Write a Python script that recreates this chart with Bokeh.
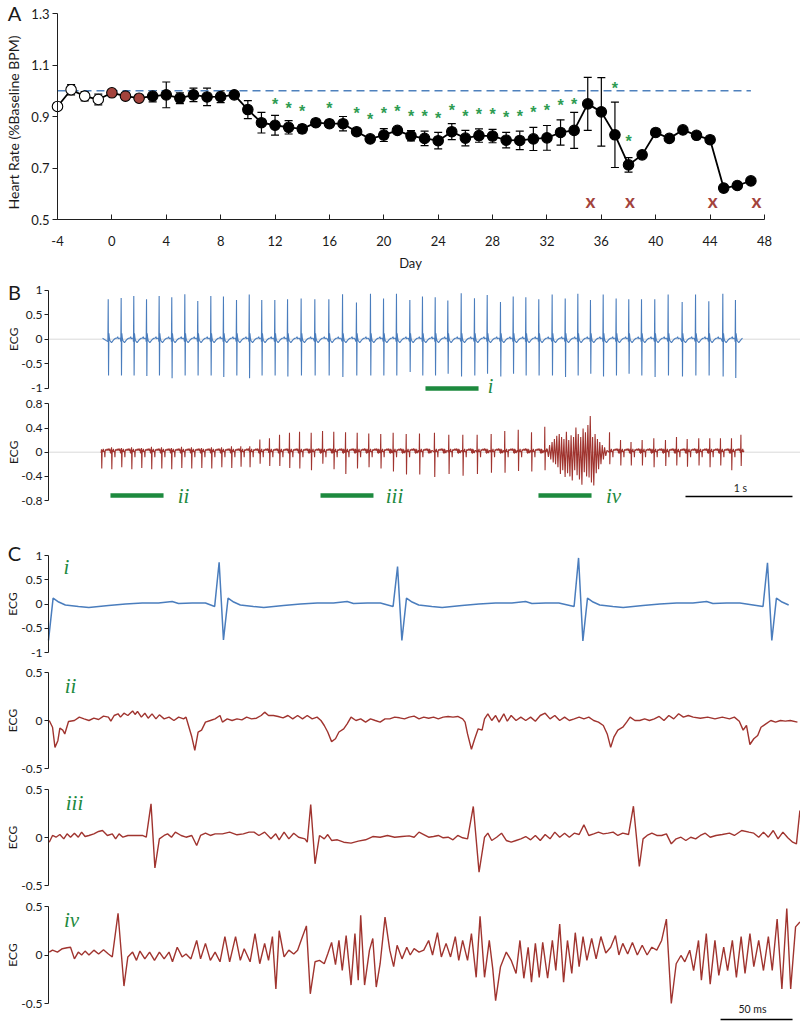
import math
from bokeh.plotting import figure
from bokeh.layouts import column
from bokeh.models import (Range1d, FixedTicker, Whisker, TeeHead, ColumnDataSource)
from bokeh.core.properties import value
from bokeh.embed import file_html
from bokeh.resources import INLINE

FONT = "Lato"
SERIF = "Liberation Serif"
AX = "#1f1f1f"
TXT = "#1a1a1a"
BLUE = "#4a7dbd"
RED = "#a0342f"
GREEN = "#1d8a3e"
STAR = "#2e9c52"
DOT_RED = "#a3433d"
DASH_BLUE = "#4f81bd"

# ---------------- Panel A: heart rate over days ----------------
DAYS = list(range(-4, 48))
HR = [0.939, 1.004, 0.979, 0.966, 0.992, 0.979, 0.971, 0.979, 0.984, 0.971,
      0.984, 0.976, 0.977, 0.984, 0.927, 0.876, 0.866, 0.858, 0.852, 0.876,
      0.872, 0.872, 0.841, 0.813, 0.828, 0.846, 0.825, 0.815, 0.806, 0.841,
      0.816, 0.826, 0.824, 0.808, 0.807, 0.813, 0.817, 0.838, 0.846, 0.949,
      0.918, 0.829, 0.712, 0.751, 0.838, 0.815, 0.848, 0.827, 0.810, 0.622,
      0.632, 0.650]
HR_ERR = [0.0, 0.02, 0.018, 0.021, 0.0, 0.0, 0.0, 0.022, 0.05, 0.021,
          0.026, 0.034, 0.023, 0.008, 0.035, 0.04, 0.038, 0.026, 0.016, 0.012,
          0.012, 0.028, 0.01, 0.013, 0.025, 0.01, 0.02, 0.028, 0.032, 0.031,
          0.03, 0.026, 0.026, 0.03, 0.036, 0.045, 0.048, 0.049, 0.07, 0.103,
          0.133, 0.127, 0.028, 0.0, 0.0, 0.0, 0.0, 0.0, 0.0, 0.0,
          0.0, 0.0]
PHASE = ["baseline"] * 4 + ["onset"] * 3 + ["treated"] * 45
PHASE_FILL = {"baseline": "white", "onset": DOT_RED, "treated": "black"}
SIG_DAYS = [12, 13, 14, 16, 18, 19, 20, 21, 22, 23, 24, 25, 26, 27, 28, 29, 30,
            31, 32, 33, 34, 37, 38]
SIG_Y = [0.962, 0.946, 0.935, 0.946, 0.926, 0.903, 0.926, 0.934, 0.917, 0.917,
         0.906, 0.938, 0.915, 0.922, 0.922, 0.913, 0.917, 0.932, 0.940, 0.957,
         0.962, 1.023, 0.817]
DEATH_DAYS = [35.2, 38.1, 44.2, 47.4]
DEATH_Y = [0.575, 0.575, 0.575, 0.575]
BASELINE = 1.0
A_YTICKS = [0.5, 0.7, 0.9, 1.1, 1.3]
A_XTICKS = list(range(-4, 49, 4))

# ---------------- Panel B: long ECG strips (time in s) ----------------
BLUE_BEATS_S = [0.717, 0.838, 0.956, 1.075, 1.193, 1.311, 1.433, 1.554, 1.676, 1.794,
                1.916, 2.035, 2.152, 2.274, 2.393, 2.520, 2.648, 2.779, 2.907, 3.037,
                3.168, 3.290, 3.411, 3.536, 3.654, 3.773, 3.891, 4.016, 4.140, 4.259,
                4.383, 4.502, 4.620, 4.741, 4.866, 4.988, 5.106, 5.224, 5.343, 5.464,
                5.582, 5.701, 5.825, 5.950, 6.081, 6.206, 6.330, 6.461, 6.579]
BLUE_PEAKS = [0.815, 0.84, 0.88, 0.815, 0.88, 0.856, 0.918, 0.78, 0.88, 0.87,
              0.80, 0.91, 0.80, 0.80, 0.815, 0.83, 0.815, 0.815, 0.918, 0.747,
              0.925, 0.83, 0.925, 0.80, 0.87, 0.856, 0.79, 0.94, 0.836, 0.90,
              0.76, 0.87, 0.856, 0.815, 0.91, 0.83, 0.925, 0.80, 0.91, 0.83,
              0.815, 0.815, 0.815, 0.91, 0.76, 0.91, 0.775, 0.925, 0.80]
BLUE_TROUGHS = [-0.74, -0.74, -0.74, -0.75, -0.74, -0.795, -0.74, -0.74, -0.74, -0.77,
                -0.74, -0.795, -0.74, -0.74, -0.76, -0.74, -0.74, -0.74, -0.77, -0.74,
                -0.74, -0.74, -0.74, -0.67, -0.74, -0.74, -0.705, -0.76, -0.74, -0.705,
                -0.76, -0.705, -0.74, -0.74, -0.74, -0.77, -0.74, -0.705, -0.76, -0.74,
                -0.705, -0.74, -0.77, -0.74, -0.76, -0.74, -0.74, -0.76, -0.79]
BLUE_START = (0.664, 0.02)
BLUE_END = (6.645, 0.02)
# one beat of the blue (healthy) lead, offsets in ms from the R peak
BLUE_TPL_MS = [-3.1, 0.0, 3.0, 6.2, 10.1, 14.7, 23.8, 31.0, 44.7, 56.5, 68.1, 79.4,
               88.9, 93.3, 102.8, 112.0]
BLUE_TPL_V = [-0.05, None, None, 0.12, 0.04, -0.02, -0.05, -0.07, -0.03, 0.0, 0.02,
              0.02, 0.05, 0.01, 0.02, 0.02]

RED_BEATS_S = [0.654, 0.748, 0.841, 0.935, 1.028, 1.121, 1.215, 1.308, 1.402, 1.495,
               1.589, 1.682, 1.776, 1.869, 1.956, 2.040, 2.134, 2.224, 2.318, 2.411,
               2.505, 2.614, 2.720, 2.825, 2.935, 3.044, 3.152, 3.264, 3.380, 3.502,
               3.626, 3.766, 3.900, 4.031, 4.165, 4.296, 4.423, 4.549, 4.673, 4.797,
               5.402, 5.505, 5.603, 5.707, 5.816, 5.925, 6.028, 6.128, 6.236, 6.339,
               6.439, 6.542, 6.630]
RED_PEAKS = [0.05, 0.08, 0.07, 0.08, 0.07, 0.09, 0.08, 0.07, 0.09, 0.08,
             0.07, 0.08, 0.08, 0.10, 0.10, 0.10, 0.21, 0.23, 0.29, 0.32,
             0.34, 0.32, 0.35, 0.34, 0.33, 0.32, 0.31, 0.30, 0.32, 0.30,
             0.31, 0.32, 0.29, 0.29, 0.29, 0.30, 0.35, 0.37, 0.33, 0.42,
             0.33, 0.20, 0.17, 0.20, 0.23, 0.20, 0.25, 0.22, 0.23, 0.23,
             0.23, 0.23, 0.29]
RED_TROUGHS = [-0.27, -0.28, -0.25, -0.28, -0.26, -0.28, -0.27, -0.28, -0.26, -0.27,
               -0.26, -0.27, -0.25, -0.26, -0.24, -0.25, -0.19, -0.23, -0.23, -0.26,
               -0.27, -0.30, -0.19, -0.28, -0.36, -0.27, -0.25, -0.27, -0.32, -0.37,
               -0.37, -0.41, -0.36, -0.39, -0.36, -0.34, -0.34, -0.31, -0.32, -0.30,
               -0.20, -0.22, -0.22, -0.22, -0.25, -0.23, -0.22, -0.24, -0.22, -0.25,
               -0.22, -0.30, -0.23]
RED_START = (0.645, 0.0)
RED_END = (6.66, 0.02)
RED_TPL_MS = [-2.7, 0.0, 2.7, 5.8, 9.1, 11.5, 14.2, 16.9, 20.9, 24.3, 28.3, 31.7, 34.4,
              37.8, 41.2, 44.5, 49.6, 54.6, 59.7, 64.1, 68.1, 71.5, 74.9, 78.9, 83.3,
              86.6, 89.0, 92.4, 95.7, 99.1, 102.5, 106.9, 112.0, 118.0]
RED_TPL_V = [0.0, None, None, -0.014, 0.021, 0.038, 0.003, 0.056, 0.021, 0.003, 0.021,
             -0.083, 0.021, 0.045, 0.021, 0.038, 0.038, 0.056, 0.028, 0.038, 0.056,
             0.056, 0.021, 0.056, -0.014, 0.038, -0.024, 0.056, -0.014, 0.045, 0.003,
             -0.014, 0.02, 0.03]
# ventricular fibrillation burst (s, value)
FIB_T = [4.820, 4.831, 4.842, 4.853, 4.865, 4.876, 4.887, 4.898, 4.909, 4.920,
         4.932, 4.943, 4.954, 4.965, 4.976, 4.987, 4.999, 5.010, 5.021, 5.032,
         5.043, 5.054, 5.066, 5.077, 5.088, 5.099, 5.110, 5.121, 5.133, 5.144,
         5.155, 5.166, 5.177, 5.188, 5.200, 5.211, 5.222, 5.233, 5.244, 5.255,
         5.267, 5.278, 5.289, 5.300, 5.311, 5.322, 5.334, 5.345, 5.356, 5.367,
         5.378]
FIB_V = [0.05, -0.08, 0.12, -0.12, 0.17, -0.17, 0.22, -0.20, 0.27, -0.25,
         0.30, -0.36, 0.25, -0.30, 0.22, -0.41, 0.34, -0.35, 0.20, -0.40,
         0.28, -0.47, 0.25, -0.30, 0.41, -0.38, 0.30, -0.45, 0.25, -0.54,
         0.39, -0.33, 0.33, -0.40, 0.45, -0.42, 0.60, -0.50, 0.25, -0.55,
         0.30, -0.35, 0.22, -0.28, 0.17, -0.20, 0.12, -0.12, 0.08, -0.06,
         0.03]
WIN_I = (3.682, 4.178)
WIN_II = (0.738, 1.234)
WIN_III = (2.701, 3.196)
WIN_IV = (4.738, 5.234)
B_SCALE_BAR = (6.112, 7.112)
B1_TICKS = [-1, -0.5, 0, 0.5, 1]
B2_TICKS = [-0.8, -0.4, 0, 0.4, 0.8]

# ---------------- Panel C: expanded windows (time in ms) ----------------
CI_BEATS_MS = [-3.0, 118.5, 242.4, 368.1, 499.3]
CI_PEAKS = [0.86, 0.86, 0.77, 0.95, 0.85]
CI_TROUGHS = [-0.75, -0.74, -0.75, -0.76, -0.75]

CII_T = [0.5, 2.8, 4.5, 6.5, 7.9, 9.9, 11.3, 13.9, 18.0, 21.4,
         24.7, 28.1, 31.5, 34.8, 38.2, 41.6, 43.3, 45.6, 48.3, 50.0,
         52.4, 55.1, 58.4, 60.1, 61.8, 64.5, 66.9, 69.2, 71.9, 74.6,
         77.0, 80.3, 83.7, 87.1, 90.4, 93.8, 95.5, 97.2, 99.5, 101.6,
         103.9, 106.3, 109.0, 112.4, 115.7, 119.1, 120.8, 124.1, 127.5, 130.9,
         134.3, 137.6, 141.0, 144.4, 147.7, 150.1, 152.8, 156.2, 159.5, 162.9,
         166.3, 169.6, 173.0, 176.4, 179.7, 183.1, 186.5, 189.2, 191.5, 193.9,
         196.6, 199.3, 201.7, 205.0, 207.4, 210.1, 213.5, 216.8, 220.2, 223.6,
         226.9, 230.3, 233.7, 237.0, 240.4, 243.8, 247.2, 250.5, 253.9, 257.3,
         260.6, 264.0, 267.4, 270.7, 274.1, 277.5, 280.9, 284.2, 287.6, 289.3,
         291.0, 293.7, 296.0, 298.4, 301.1, 302.8, 305.1, 307.8, 310.5, 312.9,
         316.2, 318.6, 321.3, 324.7, 328.0, 331.4, 334.8, 338.1, 341.5, 344.9,
         348.3, 351.6, 355.0, 358.4, 361.7, 365.1, 368.5, 371.8, 375.2, 378.6,
         381.9, 385.3, 388.0, 390.4, 392.7, 395.4, 398.8, 401.5, 403.9, 407.2,
         410.6, 414.0, 417.3, 420.7, 424.1, 427.4, 430.8, 434.2, 437.6, 440.9,
         444.3, 447.7, 452.7, 457.8, 462.8, 467.9, 472.9, 476.3, 479.7, 482.4,
         484.7, 487.1, 489.8, 492.5, 494.8, 498.2, 501.6, 504.9, 508.3, 511.7,
         515.1, 520.1]
CII_V = [0, -0.07, -0.28, -0.21, -0.08, -0.10, -0.14, -0.01, 0, 0.035,
         0.017, 0, 0.024, 0.01, 0.045, 0.035, -0.007, 0.052, 0.07, 0.035,
         0.076, 0.052, 0.10, 0.063, 0.094, 0.035, 0.076, 0.024, 0.069, 0.017,
         0.059, 0.017, 0.035, 0, 0.035, 0.017, 0.035, -0.052, -0.17, -0.31,
         -0.12, -0.10, -0.017, 0, 0.017, 0.052, -0.017, 0.017, 0, 0.017,
         0.007, 0.035, 0.017, 0.024, 0.052, 0.087, 0.052, 0.052, 0.042, 0.028,
         0.052, 0.017, 0.052, 0.017, 0.052, 0.017, 0.035, 0, -0.052, -0.12,
         -0.22, -0.19, -0.12, -0.087, -0.035, 0.035, 0, 0.017, -0.017, 0.017,
         0, -0.017, 0.017, 0.017, 0.035, 0.028, 0.017, 0.035, 0.045, 0.017,
         0.035, 0.024, 0.035, 0.017, 0.035, 0.042, 0.035, 0.042, 0.017, -0.017,
         -0.14, -0.30, -0.19, -0.087, -0.10, 0.017, 0.07, 0, 0.052, -0.017,
         0.07, -0.007, 0.052, 0, 0.035, 0, 0.035, -0.007, 0.052, 0.076,
         0.017, 0.052, 0, 0.035, 0, 0.017, 0.035, 0.017, 0.035, 0,
         -0.017, -0.052, -0.14, -0.28, -0.17, -0.10, -0.07, -0.017, 0.035, 0,
         0, 0.017, 0, 0.017, 0.042, 0, 0.052, 0.017, 0.07, 0.035,
         0.052, 0.035, 0.024, 0.035, 0.017, 0.035, 0.017, 0.035, -0.007, -0.10,
         -0.052, -0.25, -0.19, -0.156, -0.07, -0.035, 0, -0.017, 0, -0.007,
         0, -0.017]

CIII_T = [0.5, 2.8, 5.2, 7.9, 10.6, 12.9, 15.3, 18.0, 20.7, 23.0,
          25.4, 28.1, 31.5, 34.8, 37.5, 40.9, 44.3, 46.6, 49.0, 51.7,
          55.1, 60.1, 65.2, 67.9, 71.2, 73.9, 77.0, 80.3, 82.7, 85.4,
          88.1, 92.1, 95.5, 99.5, 102.9, 105.6, 109.0, 112.4, 115.7, 120.8,
          125.8, 130.9, 135.3, 139.3, 142.7, 146.1, 150.1, 154.5, 157.8, 160.2,
          163.6, 166.9, 170.3, 173.7, 178.1, 179.7, 182.1, 185.1, 188.2, 191.5,
          193.9, 196.6, 200.6, 205.0, 210.1, 215.1, 220.2, 225.2, 230.3, 235.4,
          240.4, 245.5, 250.5, 253.9, 257.3, 260.6, 264.0, 267.4, 270.7, 274.1,
          277.5, 280.9, 284.2, 287.6, 291.0, 295.0, 299.0, 302.8, 305.1, 307.8,
          311.2, 314.6, 317.9, 321.3, 324.7, 328.0, 331.4, 334.8, 338.1, 341.5,
          344.9, 348.3, 351.6, 355.0, 358.4, 361.7, 365.1, 368.5, 371.8, 375.2,
          378.6, 381.9, 385.3, 388.7, 392.1, 395.4, 398.8, 402.8, 406.2, 410.3,
          412.9, 415.7, 419.0, 422.4, 425.8, 429.1, 432.5, 435.9, 439.2, 442.6,
          446.0, 449.4, 452.7, 456.1, 459.5, 463.5, 467.9, 472.9, 476.3, 481.4,
          486.4, 489.8, 493.2, 496.5, 499.9, 503.3, 506.6, 510.0, 513.4, 516.8,
          519.4, 521.8]
CIII_V = [-0.049, 0.021, 0.003, 0.031, -0.014, 0.038, 0.003, 0.045, 0.003, 0.056,
          0.010, 0.021, 0.038, 0.063, 0.073, 0.021, 0.038, -0.014, 0.038, 0.003,
          0.021, 0.021, 0.021, 0.003, 0.35, -0.316, -0.014, 0.021, 0.038, 0.003,
          0.056, 0.021, 0.003, 0.021, -0.083, 0.021, 0.045, 0.021, 0.038, 0.038,
          0.056, 0.028, 0.038, 0.056, 0.056, 0.021, 0.056, -0.014, 0.038, -0.024,
          0.056, -0.014, 0.045, 0.003, -0.014, -0.049, 0.344, -0.274, 0.021, -0.014,
          0.031, -0.031, -0.024, -0.049, -0.059, -0.038, -0.024, 0.010, 0.003, 0.021,
          0.003, 0.010, 0.017, 0.003, 0.056, 0.031, 0.003, 0.010, 0.021, -0.003,
          0.003, -0.024, 0.021, -0.003, -0.014, 0.323, -0.361, 0.003, 0.045, -0.031,
          0.003, 0.045, -0.031, -0.049, -0.031, -0.014, 0.010, -0.024, 0.021, -0.031,
          0.031, -0.014, 0.056, 0.003, 0.045, 0.003, 0.045, 0.031, 0.132, 0.021,
          0.038, 0.056, 0.038, 0.045, 0.056, 0.021, 0.045, 0.031, 0.326, -0.302,
          -0.014, 0.021, 0.045, 0.021, 0.021, 0.038, -0.066, -0.014, 0.003, -0.031,
          0.003, -0.014, 0.021, 0.045, 0.003, 0.021, 0.031, 0.045, 0.021, 0.073,
          0.056, 0.045, 0.003, 0.056, 0.003, 0.073, -0.014, 0.056, -0.003, -0.049,
          -0.066, 0.281]

CIV_T = [0.5, 2.8, 6.2, 9.6, 12.9, 15.3, 18.0, 20.7, 23.0, 25.4,
         28.1, 31.5, 34.8, 38.2, 41.6, 44.3, 48.3, 52.4, 55.1, 58.4,
         61.1, 63.5, 66.9, 70.2, 73.6, 77.0, 80.3, 83.7, 86.1, 89.4,
         92.8, 95.5, 98.9, 102.9, 105.6, 109.0, 112.4, 115.7, 119.1, 122.5,
         125.8, 129.9, 133.2, 135.9, 140.0, 143.4, 146.7, 150.1, 152.8, 155.5,
         157.9, 160.2, 163.6, 166.9, 170.3, 173.0, 176.4, 179.1, 181.8, 185.1,
         188.2, 191.5, 193.9, 196.6, 199.3, 201.7, 204.0, 206.7, 210.1, 212.8,
         215.1, 216.8, 219.5, 222.9, 225.2, 227.6, 230.3, 233.7, 237.0, 239.7,
         242.1, 245.5, 248.8, 251.2, 253.9, 257.3, 260.6, 264.0, 266.7, 270.1,
         272.8, 276.1, 279.2, 282.5, 284.9, 287.6, 291.0, 293.7, 297.0, 299.7,
         302.8, 306.1, 308.5, 310.5, 313.9, 317.9, 321.3, 324.7, 327.4, 330.1,
         333.1, 335.4, 338.1, 340.8, 343.2, 346.6, 349.9, 352.3, 355.0, 357.7,
         360.4, 363.4, 365.8, 368.5, 371.2, 373.9, 377.2, 380.3, 383.6, 387.0,
         390.4, 393.7, 396.1, 398.8, 402.2, 405.5, 408.9, 412.3, 415.7, 419.0,
         422.4, 425.8, 429.1, 432.5, 435.9, 439.2, 441.9, 445.3, 448.0, 451.4,
         453.4, 456.8, 459.5, 462.8, 465.5, 468.9, 471.6, 474.9, 477.7, 481.0,
         483.7, 487.1, 489.8, 493.2, 496.5, 499.9, 502.6, 506.0, 509.3, 512.7,
         515.4, 518.8, 521.8]
CIV_V = [0.03, 0.05, 0.03, 0.065, 0.075, 0.08, -0.04, 0.03, 0.0, 0.04,
         0.0, 0.05, 0.01, 0.055, 0.01, -0.02, 0.43, -0.32, -0.02, 0.03,
         -0.055, 0.04, -0.04, 0.03, -0.055, 0.03, -0.04, 0.03, -0.07, 0.08,
         -0.02, 0.01, -0.04, 0.15, -0.04, 0.12, -0.055, 0.03, -0.07, 0.19,
         -0.07, 0.19, -0.055, 0.065, -0.07, 0.22, -0.09, 0.12, -0.055, 0.19,
         -0.35, 0.25, -0.02, 0.05, 0.01, 0.05, 0.19, 0.30, -0.40, -0.07,
         -0.055, -0.09, 0.01, 0.13, -0.10, 0.15, -0.16, 0.20, -0.31, 0.22,
         -0.26, 0.41, -0.31, 0.05, 0.17, -0.33, -0.09, 0.39, 0.05, -0.12,
         0.10, -0.04, 0.08, 0.0, 0.065, 0.03, 0.05, 0.15, 0.0, 0.23,
         -0.02, 0.12, -0.02, 0.19, -0.055, 0.15, -0.055, 0.22, -0.23, 0.40,
         -0.23, 0.15, -0.14, -0.47, -0.12, 0.03, -0.055, -0.19, 0.15, -0.24,
         0.08, -0.28, 0.12, -0.23, 0.13, -0.24, 0.15, -0.16, 0.32, -0.28,
         0.15, -0.19, 0.23, -0.12, 0.19, -0.055, 0.17, -0.04, 0.19, 0.02,
         0.08, 0.20, 0.0, 0.12, 0.01, 0.13, 0.0, 0.10, 0.0, 0.08,
         0.05, 0.15, 0.37, -0.50, -0.09, -0.005, -0.07, 0.05, -0.16, 0.15,
         -0.26, 0.22, -0.30, 0.15, -0.21, 0.08, -0.16, 0.15, -0.23, 0.19,
         -0.19, 0.22, -0.12, 0.15, -0.16, 0.19, -0.16, 0.37, -0.35, 0.48,
         -0.35, 0.29, 0.34]
C_SCALE_BAR = (466.7, 516.7)
C1_TICKS = [-1, -0.5, 0, 0.5, 1]
C_TICKS = [-0.5, 0, 0.5]


def build_trace(beats, peaks, troughs, tpl_ms, tpl_v, t0, t1, per_ms):
    ts, vs = [], []
    for k, tb in enumerate(beats):
        nxt = beats[k + 1] if k + 1 < len(beats) else None
        for off, v in zip(tpl_ms, tpl_v):
            t = tb + off * per_ms
            if nxt is not None and t > nxt - 4.0 * per_ms:
                continue
            if t < t0 or t > t1:
                continue
            if v is None:
                v = peaks[k] if off == 0 else troughs[k]
            ts.append(t)
            vs.append(v)
    return ts, vs


def fmt(t):
    return str(int(t)) if float(t).is_integer() else str(t)


class Panel:
    """A figure whose frame covers (almost) the whole canvas; page pixel <-> data maps."""

    def __init__(self, top, bottom, xmap, ymap, left=6, right=0, pad_top=0, pad_bottom=0,
                 xaxis=False):
        self.top, self.bottom = top, bottom
        self.xmap, self.ymap = xmap, ymap
        fl, fr = left, 800 - right
        ft, fb = top + pad_top, bottom - pad_bottom
        kw = dict(width=800, height=bottom - top, title=None, output_backend="svg",
                  toolbar_location=None,
                  x_range=Range1d(self.x(fl), self.x(fr)),
                  y_range=Range1d(self.y(fb), self.y(ft)),
                  min_border_left=left, min_border_right=right,
                  min_border_top=pad_top, min_border_bottom=pad_bottom)
        if not xaxis:
            kw["x_axis_location"] = None
        self.p = figure(**kw)
        p = self.p
        p.outline_line_color = None
        p.xgrid.visible = False
        p.ygrid.visible = False
        p.background_fill_color = "white"
        p.border_fill_color = "white"

    def x(self, px):
        return self.xmap[1] + (px - self.xmap[0]) / self.xmap[2]

    def y(self, py):
        return self.ymap[1] - (py - self.ymap[0]) / self.ymap[2]

    def text(self, px, py, s, size="12px", angle=0.0, color=TXT, font=FONT, style="normal",
             align="center", baseline="middle"):
        self.p.text(x=[self.x(px)], y=[self.y(py)], text=[s], text_font=value(font),
                    text_font_size=size, text_color=color, angle=angle,
                    text_font_style=value(style), text_align=value(align),
                    text_baseline=value(baseline))


def quiet_axis(ax, ticks, bounds, loc, tick_out, tick_in=0):
    ax.fixed_location = loc
    ax.ticker = FixedTicker(ticks=ticks, minor_ticks=[])
    ax.bounds = bounds
    ax.major_tick_out = tick_out
    ax.major_tick_in = tick_in
    ax.minor_tick_out = 0
    ax.minor_tick_in = 0
    ax.major_label_standoff = 0
    ax.major_label_text_font_size = "0px"
    ax.major_label_text_color = None
    ax.axis_line_color = AX
    ax.major_tick_line_color = AX
    ax.axis_line_width = 1
    ax.major_tick_line_width = 1


def ecg_yaxis(P, ticks, axis_px, size="12px"):
    p = P.p
    loc = P.x(axis_px)
    quiet_axis(p.yaxis[0], ticks, (ticks[0], ticks[-1]), loc, 4)
    p.text(x=[loc] * len(ticks), y=ticks, text=[fmt(t) for t in ticks], x_offset=-6,
           text_font=value(FONT), text_font_size=size, text_color=TXT,
           text_align=value("right"), text_baseline=value("middle"))


def roman(P, px, mid_py, s, size="21px"):
    P.text(px, mid_py, s, size=size, color=GREEN, font=SERIF, style="italic",
           baseline="middle")


# ===================== Panel A =====================
PA = Panel(0, 277, (57, -4, 13.596), (219, 0.5, 257.5), left=6, right=0, pad_top=0,
           pad_bottom=3, xaxis=True)
pA = PA.p
pA.line([DAYS[0], DAYS[-1]], [BASELINE, BASELINE], line_color=DASH_BLUE,
        line_width=1.6, line_dash="8 5")
err_days = [d for d, e in zip(DAYS, HR_ERR) if e > 0]
err_lo = [v - e for v, e in zip(HR, HR_ERR) if e > 0]
err_hi = [v + e for v, e in zip(HR, HR_ERR) if e > 0]
esrc = ColumnDataSource(dict(x=err_days, lo=err_lo, hi=err_hi))
pA.add_layout(Whisker(base="x", lower="lo", upper="hi", source=esrc, line_color="black",
                      line_width=1.2,
                      upper_head=TeeHead(size=8, line_color="black", line_width=1.2),
                      lower_head=TeeHead(size=8, line_color="black", line_width=1.2)))
pA.line(DAYS, HR, line_color="black", line_width=1.8)
pA.scatter(DAYS, HR, size=10.5, marker="circle",
           fill_color=[PHASE_FILL[g] for g in PHASE], line_color="black", line_width=1.1)
pA.text(SIG_DAYS, SIG_Y, text=["*"] * len(SIG_DAYS), text_font=value("Liberation Sans"),
        text_font_style=value("bold"), text_font_size="16px", text_color=STAR,
        text_align=value("center"), text_baseline=value("middle"), y_offset=4)
pA.text(DEATH_DAYS, DEATH_Y, text=["x"] * len(DEATH_DAYS), text_font=value(FONT),
        text_font_style=value("bold"), text_font_size="19px", text_color=DOT_RED,
        text_align=value("center"), text_baseline=value("middle"))
quiet_axis(pA.yaxis[0], A_YTICKS, (A_YTICKS[0], A_YTICKS[-1]), DAYS[0], 5)
quiet_axis(pA.xaxis[0], A_XTICKS, (A_XTICKS[0], A_XTICKS[-1]), A_YTICKS[0], 0, tick_in=5)
pA.text(x=[DAYS[0]] * len(A_YTICKS), y=A_YTICKS, text=[f"{t:.1f}" for t in A_YTICKS],
        x_offset=-8, text_font=value(FONT), text_font_size="13px", text_color=TXT,
        text_align=value("right"), text_baseline=value("middle"))
pA.text(x=A_XTICKS, y=[A_YTICKS[0]] * len(A_XTICKS), text=[fmt(t) for t in A_XTICKS],
        y_offset=21, text_font=value(FONT), text_font_size="13px", text_color=TXT,
        text_align=value("center"), text_baseline=value("middle"))
PA.text(410, 262, "Day", size="13px")
PA.text(14, 12, "A", size="20px")
PA.text(13, 122, "Heart Rate (%Baseline BPM)", size="14px", angle=math.pi / 2)

# ===================== Panel B (top, blue) =====================
PB1 = Panel(277, 397, (31, 0.0, 107.0), (338.7, 0.0, 49.0))
pB1 = PB1.p
ax_b = PB1.x(48)
pB1.segment(x0=[ax_b], y0=[0], x1=[PB1.x(800)], y1=[0], line_color="#d9d9d9", line_width=1)
bt, bv = build_trace(BLUE_BEATS_S, BLUE_PEAKS, BLUE_TROUGHS, BLUE_TPL_MS, BLUE_TPL_V,
                     BLUE_START[0], BLUE_END[0], 0.001)
bt = [BLUE_START[0]] + bt + [BLUE_END[0]]
bv = [BLUE_START[1]] + bv + [BLUE_END[1]]
pB1.line(bt, bv, line_color=BLUE, line_width=1.1)
pB1.segment(x0=[WIN_I[0]], y0=[PB1.y(388)], x1=[WIN_I[1]], y1=[PB1.y(388)],
            line_color=GREEN, line_width=4.5)
roman(PB1, 490, 385, "i", size="20px")
ecg_yaxis(PB1, B1_TICKS, 48)
PB1.text(14, 291, "B", size="20px")
PB1.text(13, 338.7, "ECG", size="12px", angle=math.pi / 2)

# ===================== Panel B (bottom, red) =====================
PB2 = Panel(397, 512, (31, 0.0, 107.0), (451.7, 0.0, 60.44))
pB2 = PB2.p
pB2.segment(x0=[ax_b], y0=[0], x1=[PB2.x(800)], y1=[0], line_color="#d9d9d9", line_width=1)
rt, rv = build_trace(RED_BEATS_S, RED_PEAKS, RED_TROUGHS, RED_TPL_MS, RED_TPL_V,
                     RED_START[0], RED_END[0], 0.001)
pts = [(t, v) for t, v in zip(rt, rv) if not (FIB_T[0] - 0.004 <= t <= FIB_T[-1] + 0.006)]
pts += list(zip(FIB_T, FIB_V))
pts += [RED_START, RED_END]
pts.sort()
pB2.line([a for a, b in pts], [b for a, b in pts], line_color=RED, line_width=1.1)
wins = [WIN_II, WIN_III, WIN_IV]
ybar = PB2.y(495)
pB2.segment(x0=[w[0] for w in wins], y0=[ybar] * 3, x1=[w[1] for w in wins],
            y1=[ybar] * 3, line_color=GREEN, line_width=4.5)
roman(PB2, 183, 495, "ii")
roman(PB2, 394, 495, "iii")
roman(PB2, 613, 495, "iv")
yscale = PB2.y(496)
pB2.segment(x0=[B_SCALE_BAR[0]], y0=[yscale], x1=[B_SCALE_BAR[1]], y1=[yscale],
            line_color="black", line_width=1.5)
PB2.text(740, 487, "1 s", size="10.5px")
ecg_yaxis(PB2, B2_TICKS, 48)
PB2.text(13, 451.7, "ECG", size="12px", angle=math.pi / 2)

# ===================== Panel C =====================
PC1 = Panel(512, 660, (48, 0.0, 1.44), (603.5, 0.0, 48.5))
pC1 = PC1.p
ct, cv = build_trace(CI_BEATS_MS, CI_PEAKS, CI_TROUGHS, BLUE_TPL_MS, BLUE_TPL_V,
                     0.0, 522.0, 1.0)
pC1.line(ct, cv, line_color=BLUE, line_width=1.5)
roman(PC1, 66, 566, "i")
ecg_yaxis(PC1, C1_TICKS, 48)
PC1.text(14, 552, "C", size="20px")
PC1.text(12, 603.5, "ECG", size="12px", angle=math.pi / 2)

PC2 = Panel(660, 778, (48, 0.0, 1.44), (720.0, 0.0, 96.0))
PC2.p.line(CII_T, CII_V, line_color=RED, line_width=1.4)
roman(PC2, 70, 685, "ii")
ecg_yaxis(PC2, C_TICKS, 48)
PC2.text(12, 720, "ECG", size="12px", angle=math.pi / 2)

PC3 = Panel(778, 895, (48, 0.0, 1.44), (837.0, 0.0, 96.0))
PC3.p.line(CIII_T, CIII_V, line_color=RED, line_width=1.4)
roman(PC3, 74, 802, "iii")
ecg_yaxis(PC3, C_TICKS, 48)
PC3.text(12, 837, "ECG", size="12px", angle=math.pi / 2)

PC4 = Panel(895, 1023, (48, 0.0, 1.44), (954.5, 0.0, 97.0))
pC4 = PC4.p
pC4.line(CIV_T, CIV_V, line_color=RED, line_width=1.4)
roman(PC4, 71, 919, "iv")
ecg_yaxis(PC4, C_TICKS, 48)
PC4.text(12, 954.5, "ECG", size="12px", angle=math.pi / 2)
ysc = PC4.y(1019)
pC4.segment(x0=[C_SCALE_BAR[0]], y0=[ysc], x1=[C_SCALE_BAR[1]], y1=[ysc],
            line_color="black", line_width=1.5)
PC4.text(752, 1008, "50 ms", size="10.5px")

layout = column(pA, pB1, pB2, pC1, PC2.p, PC3.p, pC4, spacing=0)
open("out.html", "w").write(file_html(layout, INLINE))
